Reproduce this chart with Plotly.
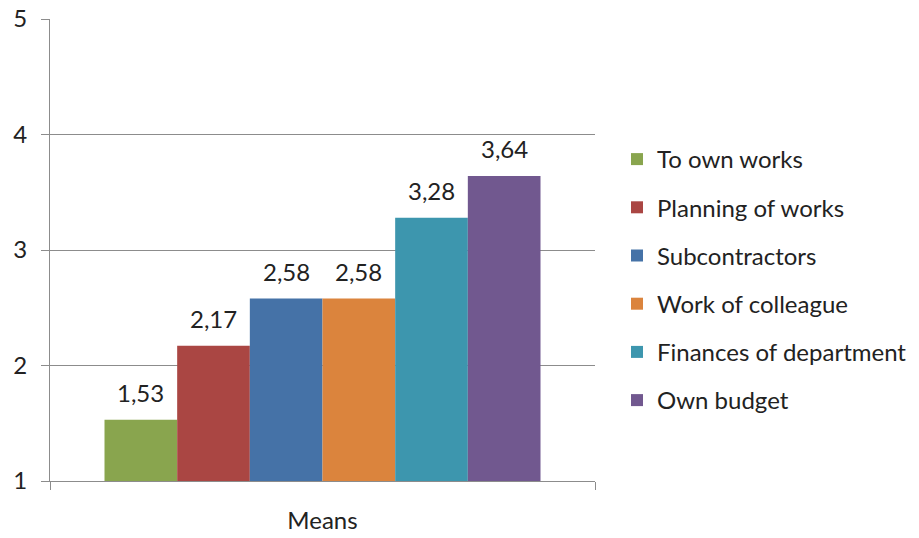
import plotly.graph_objects as go

# Mean scores per item (scale 1-5)
categories = ["Means"]
series_names = [
    "To own works",
    "Planning of works",
    "Subcontractors",
    "Work of colleague",
    "Finances of department",
    "Own budget",
]
series_values = [1.53, 2.17, 2.58, 2.58, 3.28, 3.64]
series_colors = ["#89A54E", "#AA4643", "#4572A7", "#DB843D", "#3D96AE", "#71588F"]
y_ticks = [1, 2, 3, 4, 5]

FONT = "Lato, Open Sans, sans-serif"
TEXT = "#222222"
AXIS_GRAY = "#8c8c8c"
BARGAP = 0.2
FS = 24

fig = go.Figure()
for i, (name, val, col) in enumerate(zip(series_names, series_values, series_colors)):
    fig.add_trace(go.Bar(
        x=categories,
        y=[val],
        name=name,
        marker=dict(color=col, line=dict(width=0)),
        legendgroup=f"g{i}",
        hoverinfo="name+y",
    ))

# value labels above each bar, comma as decimal separator
n = len(series_values)
bar_w = (1 - BARGAP) / n
annotations = []
for i, val in enumerate(series_values):
    xc = -(1 - BARGAP) / 2 + (i + 0.5) * bar_w
    annotations.append(dict(
        x=xc, y=val, xref="x", yref="y",
        text=f"{val:.2f}".replace(".", ","),
        showarrow=False, yanchor="bottom", yshift=11,
        font=dict(family=FONT, size=FS, color=TEXT),
    ))

fig.update_layout(
    width=919, height=538,
    margin=dict(l=50, r=324, t=19, b=57),
    paper_bgcolor="white", plot_bgcolor="white",
    barmode="group", bargap=BARGAP, bargroupgap=0,
    font=dict(family=FONT, size=FS, color=TEXT),
    annotations=annotations,
    showlegend=True,
    legend=dict(
        xref="container", yref="container",
        x=617 / 919, y=1 - 137 / 538, xanchor="left", yanchor="top",
        font=dict(family=FONT, size=FS, color=TEXT),
        tracegroupgap=14, itemwidth=30,
        maxheight=1.0,
        bgcolor="rgba(0,0,0,0)",
    ),
    xaxis=dict(
        showline=True, linecolor=AXIS_GRAY, linewidth=1,
        ticks="outside", tickson="boundaries", ticklen=8, tickcolor=AXIS_GRAY,
        showgrid=False, tickfont=dict(size=FS), ticklabelstandoff=18,
        automargin=False,
    ),
    yaxis=dict(
        range=[1, 5], tickvals=y_ticks,
        showline=True, linecolor=AXIS_GRAY, linewidth=1,
        ticks="outside", ticklen=8, tickcolor=AXIS_GRAY,
        showgrid=True, gridcolor=AXIS_GRAY, gridwidth=1,
        zeroline=False, tickfont=dict(size=FS), ticklabelstandoff=9,
        automargin=False,
    ),
)

fig.write_html("out.html")
